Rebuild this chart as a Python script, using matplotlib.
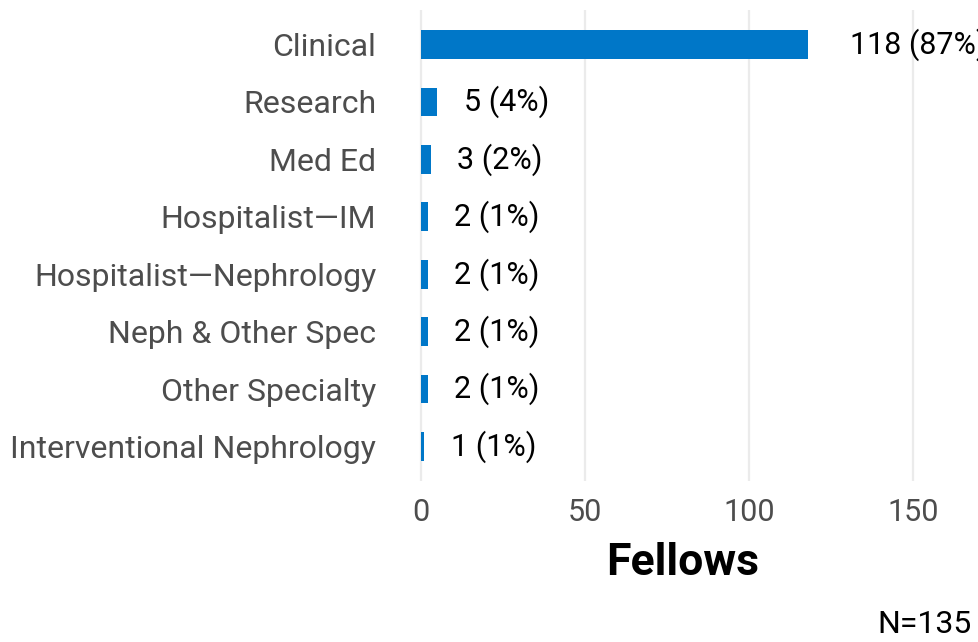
import numpy as np
import matplotlib.pyplot as plt

categories = ["Clinical", "Research", "Med Ed", "Hospitalist\u2014IM",
              "Hospitalist\u2014Nephrology", "Neph & Other Spec",
              "Other Specialty", "Interventional Nephrology"]
fellows = [118, 5, 3, 2, 2, 2, 2, 1]
percents = [87, 4, 2, 1, 1, 1, 1, 1]
total_n = 135
x_ticks = [0, 50, 100, 150]

plt.rcParams['font.family'] = ['Roboto', 'DejaVu Sans']

W, H = 979, 642
fig = plt.figure(figsize=(W / 100, H / 100), dpi=100)

# panel placement in pixels
left_px, right_px = 401.3, 978.6
top_px, bottom_px = 10, 481
ax = fig.add_axes([left_px / W, 1 - bottom_px / H,
                   (right_px - left_px) / W, (bottom_px - top_px) / H])

y = np.arange(len(categories))
ax.barh(y, fellows, height=0.5, color='#0077c8', zorder=2)

for yi, v, p in zip(y, fellows, percents):
    ax.text(v * 1.04 + 8, yi, f"{v} ({p}%)", va='center', ha='left',
            fontsize=22, color='black', clip_on=False)

ax.set_xlim(-6, 170)
ax.set_ylim(len(categories) - 0.4, -0.6)
ax.set_yticks(y)
ax.set_yticklabels(categories, fontsize=23)
ax.set_xticks(x_ticks)

ax.grid(axis='x', color='#ebebeb', linewidth=1.6, zorder=0)
ax.grid(axis='y', visible=False)
for s in ax.spines.values():
    s.set_visible(False)
ax.tick_params(axis='both', length=0, labelcolor='#4d4d4d')
ax.tick_params(axis='x', labelsize=22, pad=12)
ax.tick_params(axis='y', pad=18)

ax.set_xlabel("Fellows", fontsize=32, fontweight='bold', color='black')
ax.xaxis.set_label_coords((683 - left_px) / (right_px - left_px), -0.13)

fig.text(972 / W, 9.3 / H, f"N={total_n}", ha='right', va='baseline',
         fontsize=23, color='black')

fig.savefig('out.png', dpi=100)
